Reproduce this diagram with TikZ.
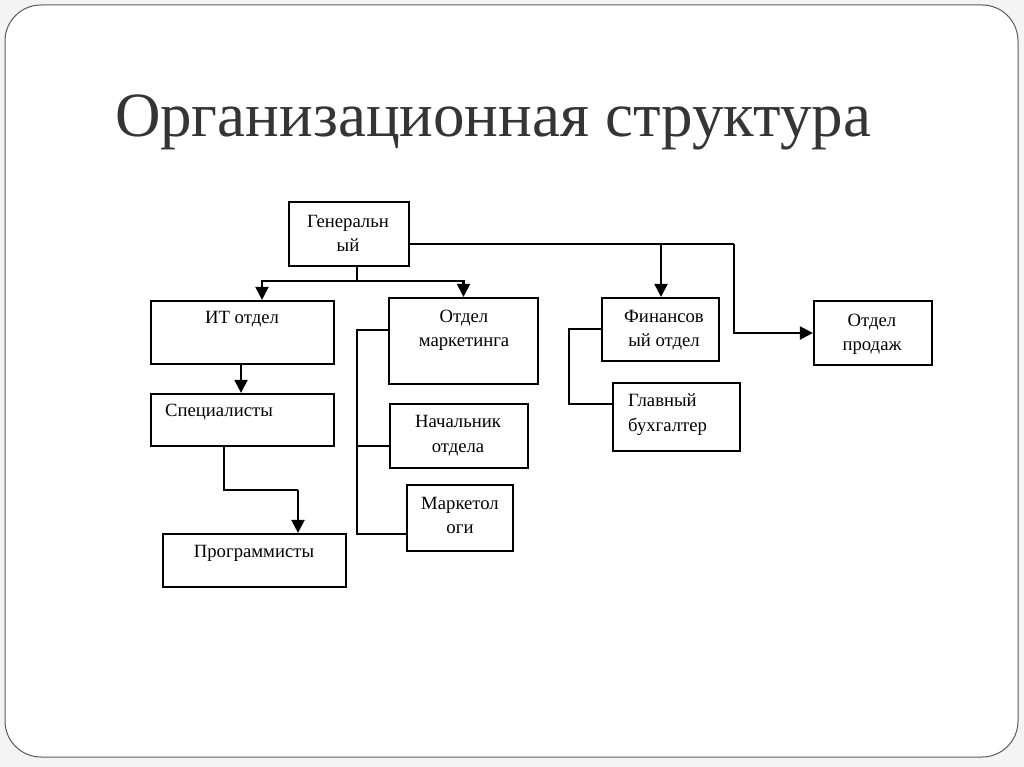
\documentclass[tikz,border=0pt]{standalone}
\usepackage{fontspec}
\setmainfont{Liberation Serif}
\usetikzlibrary{arrows.meta}
\definecolor{outerbg}{HTML}{F4F4F4}
\definecolor{framec}{HTML}{5A5A5A}
\definecolor{titlec}{HTML}{353535}
\begin{document}
\begin{tikzpicture}[x=1pt,y=-1pt,
  box/.style={draw=black, line width=2.2pt, rectangle, inner sep=0pt},
  lbl/.style={inner sep=0pt, font=\fontsize{18.7}{24.5}\selectfont, align=center},
  conn/.style={draw=black, line width=2.2pt},
  arr/.style={conn, -{Triangle[width=13pt,length=13pt]}},
  brk/.style={draw=black, line width=1.6pt}]
\useasboundingbox (0,0) rectangle (1024,767);
\fill[outerbg] (0,0) rectangle (1024,767);
\draw[framec, line width=1pt, fill=white, rounded corners=36pt] (5,5) rectangle (1018,757);
\node[font=\fontsize{63}{66}\selectfont, text=titlec, anchor=base] (title) at (493,137) {Организационная структура};
% boxes
\node[box, minimum width=120pt, minimum height=64pt] (gen) at (349,234) {};
\node[box, minimum width=183pt, minimum height=63pt] (it) at (242.5,332.5) {};
\node[box, minimum width=149pt, minimum height=86pt] (mkt) at (463.5,341) {};
\node[box, minimum width=117pt, minimum height=63pt] (fin) at (660.5,329.5) {};
\node[box, minimum width=118pt, minimum height=64pt] (prod) at (873,333) {};
\node[box, minimum width=127pt, minimum height=68pt] (glav) at (676.5,417) {};
\node[box, minimum width=183pt, minimum height=52pt] (spec) at (242.5,420) {};
\node[box, minimum width=138pt, minimum height=64pt] (nach) at (459,436) {};
\node[box, minimum width=106pt, minimum height=66pt] (mark) at (460,518) {};
\node[box, minimum width=183pt, minimum height=53pt] (prog) at (254.5,560.5) {};
% texts
\node[lbl] (tgen) at (348,233.5) {Генеральн\\ый};
\node[lbl] (tit) at (242,319) {ИТ отдел};
\node[lbl] (tmkt) at (464,330.5) {Отдел\\маркетинга};
\node[lbl] (tfin) at (664,330) {Финансов\\ый отдел};
\node[lbl] (tprod) at (872,334.5) {Отдел\\продаж};
\node[lbl, align=left, anchor=west] (tglav) at (628,414.5) {Главный\\бухгалтер};
\node[lbl, anchor=west] (tspec) at (165,412) {Специалисты};
\node[lbl] (tnach) at (458,435.5) {Начальник\\отдела};
\node[lbl] (tmark) at (460,515.5) {Маркетол\\оги};
\node[lbl] (tprog) at (254,553) {Программисты};
% coordinates
\coordinate (j1) at (357,281);
\coordinate (j2) at (734,244);
\coordinate (s1) at (224,490);
\coordinate (s2) at (298,490);
\coordinate (mb) at (357,330);
\coordinate (fb) at (569,329);
% connectors
\draw[conn] (gen.south -| j1) -- (j1);
\draw[arr] (j1) -| (it.north -| 262,0);
\draw[arr] (j1) -| (mkt.north);
\draw[conn] (gen.east |- j2) -- (j2);
\draw[arr] (661,244) -- (fin.north -| 661,0);
\draw[arr] (j2) |- (prod.west);
\draw[arr] (it.south -| 241,0) -- (spec.north -| 241,0);
\draw[conn] (spec.south -| s1) -- (s1) -- (s2);
\draw[arr] (s2) -- (prog.north -| s2);
% brackets
\draw[brk] (mkt.west |- mb) -- (mb) |- (mark.west |- 0,534);
\draw[brk] (mb |- 0,446) -- (nach.west |- 0,446);
\draw[brk] (fin.west |- fb) -- (fb) |- (glav.west |- 0,404);
\end{tikzpicture}
\end{document}
